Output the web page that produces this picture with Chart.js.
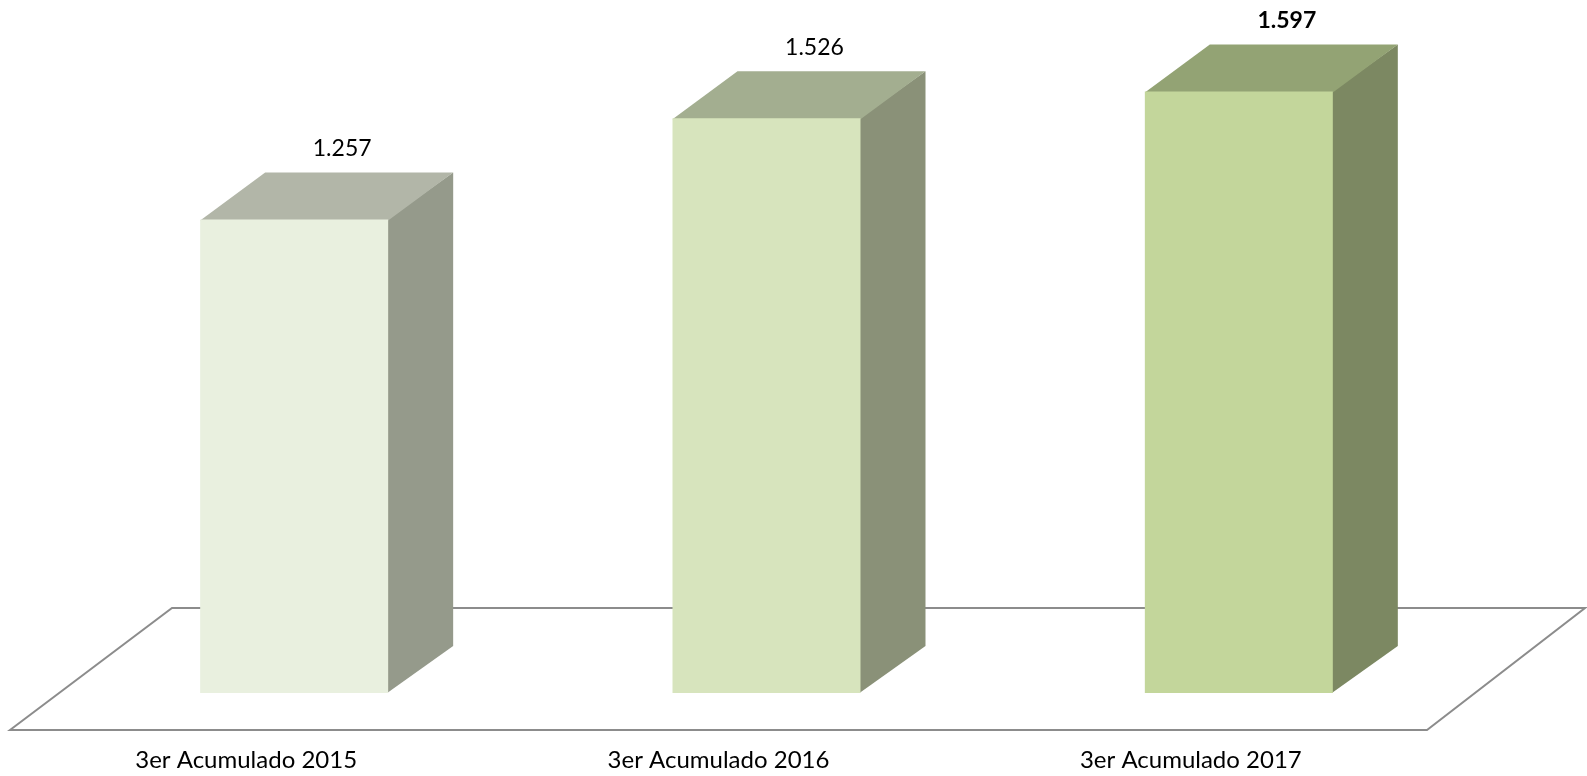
<!DOCTYPE html>
<html>
<head>
<meta charset="utf-8">
<script src="https://cdn.jsdelivr.net/npm/chart.js@4/dist/chart.umd.min.js"></script>
<style>
  html, body { margin: 0; padding: 0; background: #fff; }
  #wrap { width: 1587px; height: 776px; }
</style>
</head>
<body>
<div id="wrap"><canvas id="chart"></canvas></div>
<script>
const categories = ['3er Acumulado 2015', '3er Acumulado 2016', '3er Acumulado 2017']
const values = [1257, 1526, 1597]
const valueLabels = ['1.257', '1.526', '1.597']
const boldLabel = [false, false, true]

const frontColors = ['#E9F0DF', '#D7E4BD', '#C3D69B']
const topColors = ['#B2B6A8', '#A3AE90', '#93A374']
const sideColors = ['#959A8B', '#8A9178', '#7C8862']

const depthX = 65
const depthY = 47
const floorShift = 48 // bars stand this far behind the floor front edge

const cube3d = {
  id: 'cube3d',
  beforeDatasetsDraw(chart) {
    const ctx = chart.ctx
    const area = chart.chartArea
    const bottom = chart.scales.y.getPixelForValue(0)

    // floor plane
    const fl = area.left - floorShift
    const fr = area.right - floorShift
    const fy = bottom + 37
    ctx.save()
    ctx.strokeStyle = '#8C8C8C'
    ctx.lineWidth = 2
    ctx.beginPath()
    ctx.moveTo(fl, fy)
    ctx.lineTo(fl + 162, fy - 122)
    ctx.lineTo(fr + 158, fy - 122)
    ctx.lineTo(fr, fy)
    ctx.closePath()
    ctx.stroke()

    // side and top faces of each bar
    chart.getDatasetMeta(0).data.forEach((bar, i) => {
      const half = bar.width / 2
      const l = bar.x - half
      const r = bar.x + half
      const t = bar.y
      ctx.fillStyle = sideColors[i]
      ctx.beginPath()
      ctx.moveTo(r - 1, bottom)
      ctx.lineTo(r + depthX, bottom - depthY)
      ctx.lineTo(r + depthX, t - depthY)
      ctx.lineTo(r - 1, t)
      ctx.closePath()
      ctx.fill()
      ctx.fillStyle = topColors[i]
      ctx.beginPath()
      ctx.moveTo(l, t + 1)
      ctx.lineTo(l + depthX, t - depthY)
      ctx.lineTo(r + depthX, t - depthY)
      ctx.lineTo(r, t + 1)
      ctx.closePath()
      ctx.fill()
    })
    ctx.restore()
  },
  afterDatasetsDraw(chart) {
    const ctx = chart.ctx
    ctx.save()
    ctx.fillStyle = '#000'
    ctx.textAlign = 'center'
    ctx.textBaseline = 'middle'
    chart.getDatasetMeta(0).data.forEach((bar, i) => {
      ctx.font = (boldLabel[i] ? 'bold ' : '') + '23px Lato'
      ctx.fillText(valueLabels[i], bar.x + 48, bar.y - 71)
    })
    ctx.restore()
  }
}

new Chart(document.getElementById('chart'), {
  type: 'bar',
  data: {
    labels: categories,
    datasets: [{
      data: values,
      backgroundColor: frontColors,
      borderWidth: 0,
      categoryPercentage: 1,
      barPercentage: 0.398,
    }],
  },
  options: {
    responsive: true,
    maintainAspectRatio: false,
    animation: false,
    layout: {
      padding: { top: 15, left: 58, right: 112, bottom: 3 },
    },
    plugins: {
      legend: { display: false },
      tooltip: { enabled: false },
    },
    scales: {
      x: {
        grid: { display: false, drawTicks: false },
        border: { display: false },
        afterFit(scale) { scale.height = 80 },
        ticks: {
          color: '#000',
          font: { family: 'Lato', size: 24 },
          padding: 53,
          labelOffset: -floorShift,
          maxRotation: 0,
        },
      },
      y: {
        display: false,
        min: 0,
        max: 1800,
      },
    },
  },
  plugins: [cube3d],
})
</script>
</body>
</html>
